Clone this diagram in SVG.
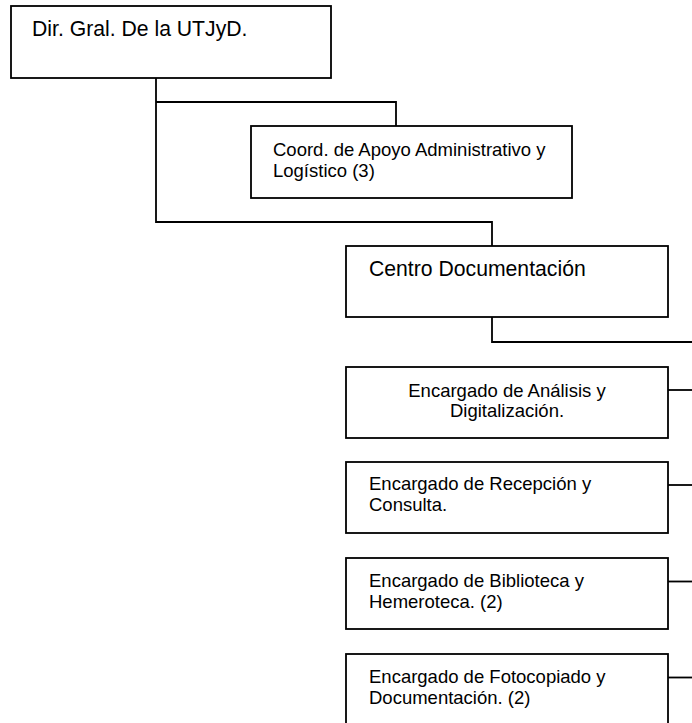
<svg xmlns="http://www.w3.org/2000/svg" width="692" height="723" viewBox="0 0 692 723">
<style>
.box{fill:#fff;stroke:#000;stroke-width:1.8}
.ln{fill:none;stroke:#000;stroke-width:1.8}
text{font-family:"Liberation Sans",Arial,sans-serif;fill:#000}
.big{font-size:21.2px}
.sm{font-size:18.5px}
</style>
<rect width="692" height="723" fill="#fff"/>
<g id="connectors">
<polyline class="ln" points="156,78 156,222 492,222 492,246"/>
<polyline class="ln" points="156,102 396,102 396,126"/>
<polyline class="ln" points="492,317 492,342 692,342"/>
<line class="ln" x1="668" y1="390" x2="692" y2="390"/>
<line class="ln" x1="668" y1="485" x2="692" y2="485"/>
<line class="ln" x1="668" y1="581.5" x2="692" y2="581.5"/>
<line class="ln" x1="668" y1="677.5" x2="692" y2="677.5"/>
</g>
<g id="dir">
<rect class="box" x="11" y="6" width="320" height="72"/>
<text class="big" x="32" y="36">Dir. Gral. De la UTJyD.</text>
</g>
<g id="coord">
<rect class="box" x="251" y="126" width="321" height="72"/>
<text class="sm" x="273" y="155.5">Coord. de Apoyo Administrativo y</text>
<text class="sm" x="273" y="176.5">Logístico (3)</text>
</g>
<g id="centro">
<rect class="box" x="346" y="246" width="322" height="71"/>
<text class="big" x="369" y="276">Centro Documentación</text>
</g>
<g id="analisis">
<rect class="box" x="346" y="367" width="322" height="71"/>
<text class="sm" x="507" y="396.5" text-anchor="middle">Encargado de Análisis y</text>
<text class="sm" x="507" y="417" text-anchor="middle">Digitalización.</text>
</g>
<g id="recepcion">
<rect class="box" x="346" y="462" width="322" height="71"/>
<text class="sm" x="369" y="489.5">Encargado de Recepción y</text>
<text class="sm" x="369" y="510.5">Consulta.</text>
</g>
<g id="biblioteca">
<rect class="box" x="346" y="558" width="322" height="71"/>
<text class="sm" x="369" y="586.5">Encargado de Biblioteca y</text>
<text class="sm" x="369" y="607.5">Hemeroteca. (2)</text>
</g>
<g id="fotocopiado">
<rect class="box" x="346" y="654" width="322" height="90"/>
<text class="sm" x="369" y="683">Encargado de Fotocopiado y</text>
<text class="sm" x="369" y="704">Documentación. (2)</text>
</g>
</svg>
